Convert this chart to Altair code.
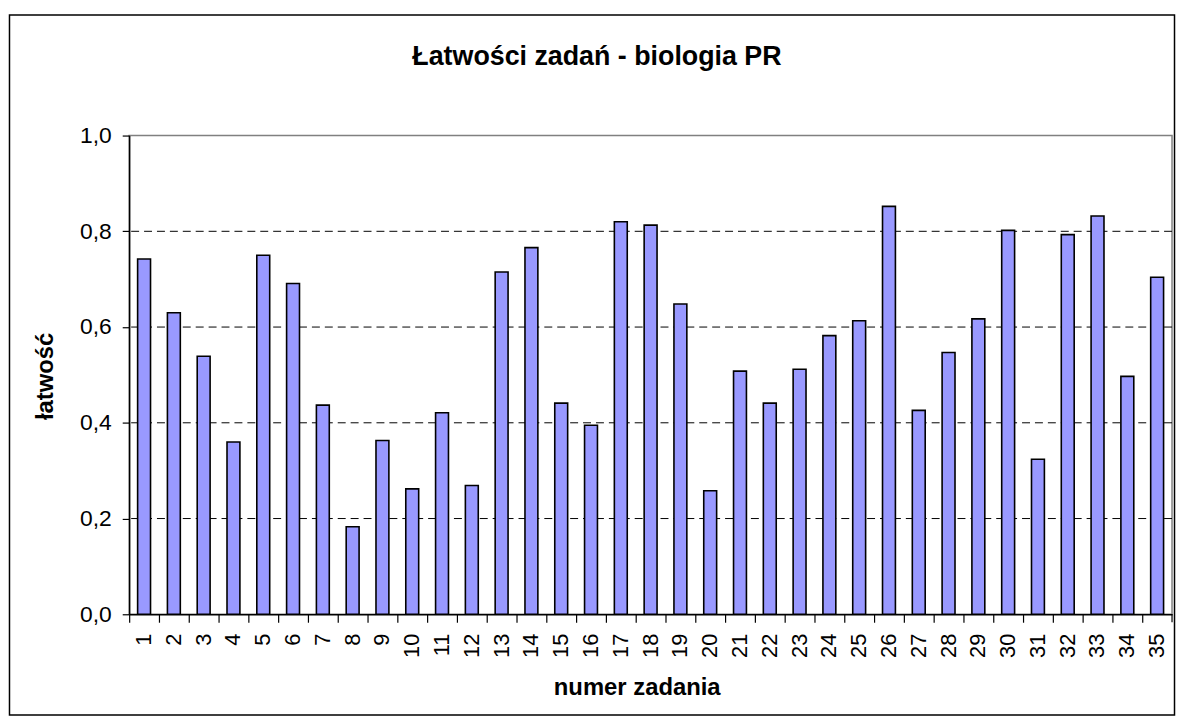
import altair as alt
import pandas as pd

zadania = list(range(1, 36))
latwosc = [0.742, 0.630, 0.539, 0.360, 0.750, 0.691, 0.437, 0.183, 0.363, 0.262,
           0.421, 0.269, 0.715, 0.766, 0.441, 0.395, 0.820, 0.813, 0.648, 0.258,
           0.508, 0.441, 0.512, 0.582, 0.613, 0.852, 0.426, 0.547, 0.617, 0.802,
           0.324, 0.793, 0.832, 0.497, 0.704]
grid_values = [0.2, 0.4, 0.6, 0.8]
y_ticks = [0.0, 0.2, 0.4, 0.6, 0.8, 1.0]
chart_title = ["Łatwości zadań - biologia PR"]

FONT = "Liberation Sans"
W, H = 1050, 482

df = pd.DataFrame({"zadanie": zadania, "latwosc": latwosc})
grid_df = pd.DataFrame({"g": grid_values})
one = pd.DataFrame({"k": [0]})
title_df = pd.DataFrame({"t": chart_title})

x_enc = alt.X(
    "zadanie:O",
    scale=alt.Scale(paddingInner=0, paddingOuter=0),
    axis=alt.Axis(
        title="numer zadania",
        labelAngle=270,
        bandPosition=0,
        labelFont=FONT, labelFontSize=22, labelColor="black",
        labelPadding=11,
        tickSize=8, tickColor="black", tickWidth=1.2,
        domainColor="black", domainWidth=1.5,
        titleFont=FONT, titleFontSize=24, titleFontWeight="bold", titleColor="black",
        titleX=511, titleY=81, titleBaseline="alphabetic", titleAlign="center",
        grid=False,
    ),
)
y_scale = alt.Scale(domain=[0, 1], nice=False)

bars = alt.Chart(df).mark_bar(
    width=alt.RelativeBandSize(0.433), fill="#9999FF", stroke="black", strokeWidth=1.6
).encode(
    x=x_enc,
    y=alt.Y(
        "latwosc:Q",
        scale=y_scale,
        axis=alt.Axis(
            title="łatwość",
            values=y_ticks,
            labelExpr="replace(format(datum.value, '.1f'), '.', ',')",
            labelFont=FONT, labelFontSize=23, labelColor="black",
            labelPadding=11,
            tickSize=7, tickColor="black", tickWidth=1.2,
            domainColor="black", domainWidth=1.5,
            titleFont=FONT, titleFontSize=24, titleFontWeight="bold", titleColor="black",
            titleAngle=270, titleX=-77, titleY=242, titleAlign="center",
            titleBaseline="alphabetic",
            grid=False,
        ),
    ),
)

grid = alt.Chart(grid_df).mark_rule(
    color="black", strokeWidth=1, strokeDash=[8, 5]
).encode(y=alt.Y("g:Q", scale=y_scale))

frame = alt.Chart(one).mark_rect(
    fill=None, stroke="black", strokeWidth=1.5
).encode(
    x=alt.value(-120.5), x2=alt.value(1052.5),
    y=alt.value(-121.5), y2=alt.value(583.5),
)

end_tick = alt.Chart(one).mark_rule(color="black", strokeWidth=1.2).encode(
    x=alt.value(W), y=alt.value(H), y2=alt.value(H + 8)
)

title = alt.Chart(title_df).mark_text(
    font=FONT, fontSize=27, fontWeight="bold", color="black",
    align="center", baseline="alphabetic",
).encode(text="t:N", x=alt.value(471), y=alt.value(-71))

chart = alt.layer(grid, bars, end_tick, frame, title).properties(
    width=W,
    height=H,
    background="white",
    autosize=alt.AutoSizeParams(type="none"),
    padding={"left": 122, "top": 126, "right": 4, "bottom": 103},
).configure_view(
    stroke="#808080", strokeWidth=1.5
)

chart.save("out.html", embed_options={"renderer": "svg", "actions": False})
